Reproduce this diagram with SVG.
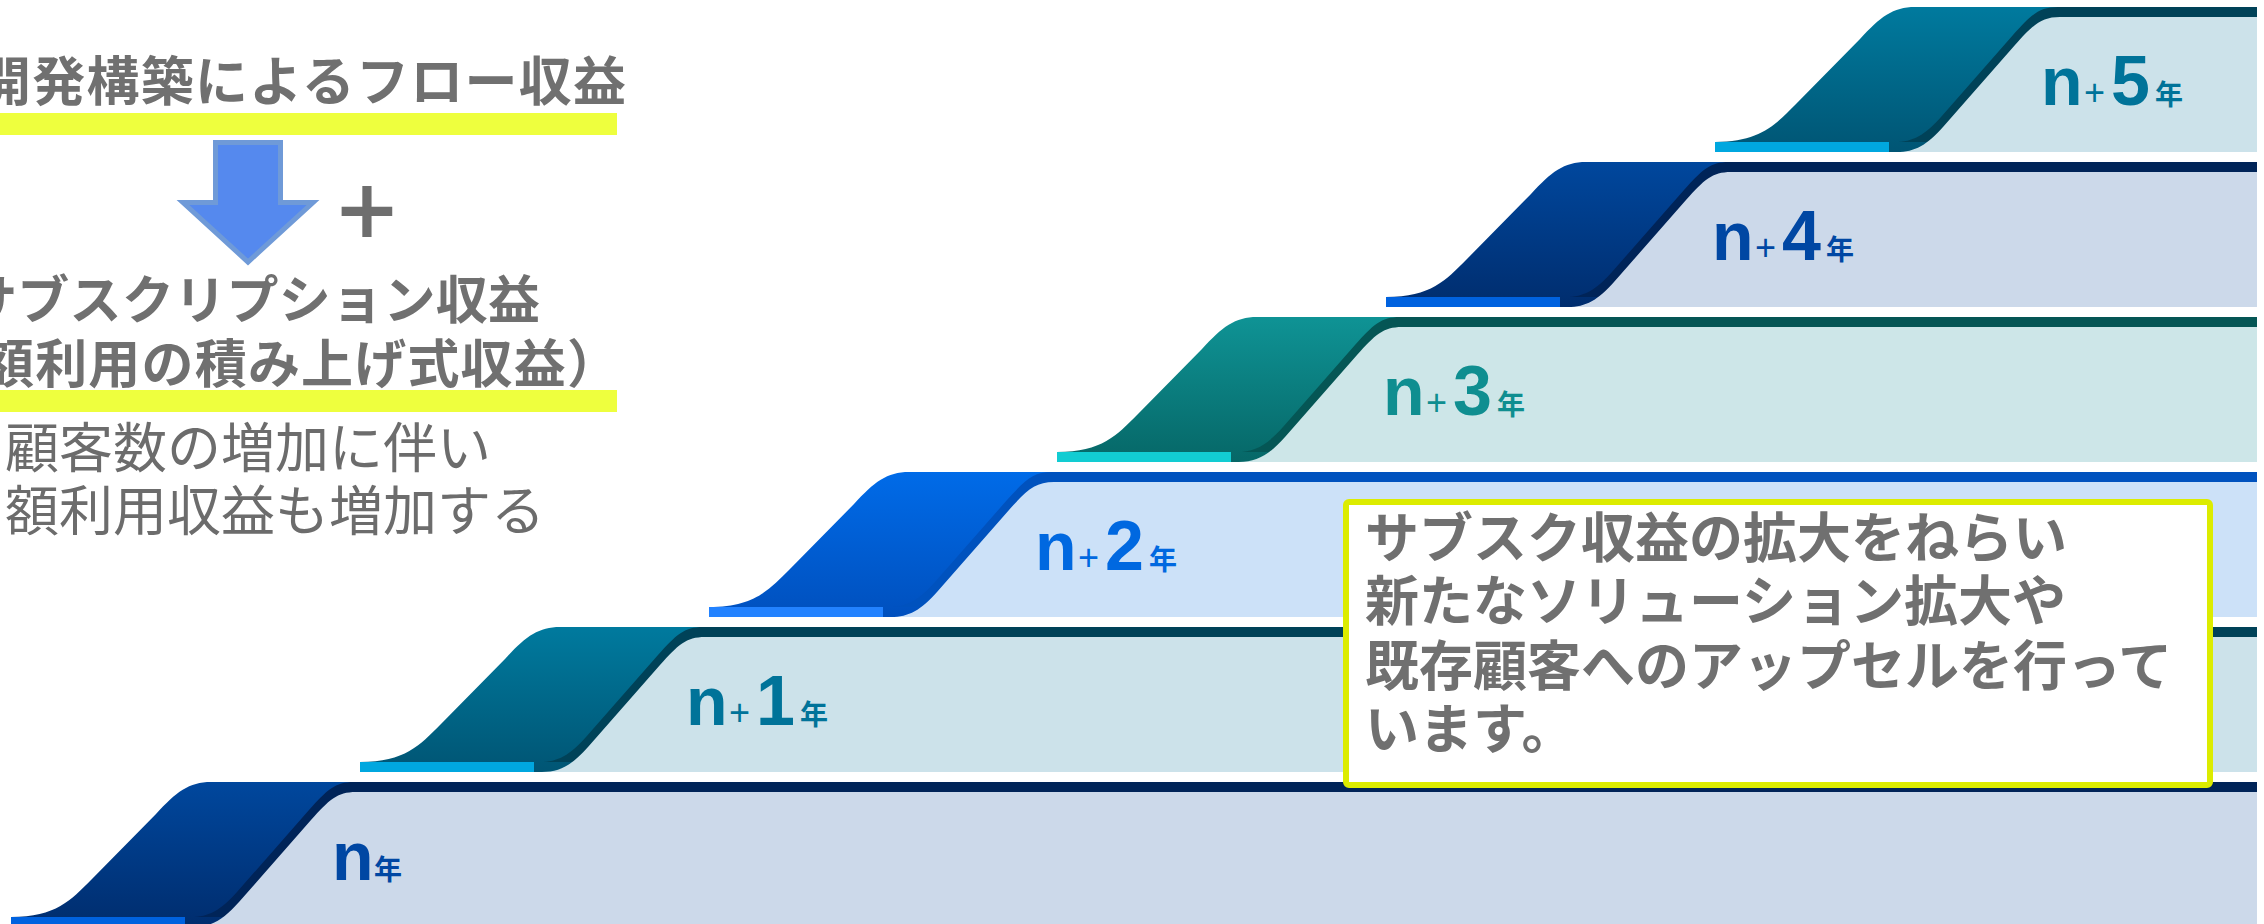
<svg xmlns="http://www.w3.org/2000/svg" width="2264" height="924" viewBox="0 0 2264 924">
<defs>
<style>
.tb{font-family:"Noto Sans CJK JP","Noto Sans CJK SC",sans-serif;font-weight:700;fill:#707070}
.tr{font-family:"Noto Sans CJK JP","Noto Sans CJK SC",sans-serif;font-weight:400;fill:#6C6C6C}
.lbl{font-family:"Liberation Sans",Arial,sans-serif;font-weight:700}
.pl{font-family:"Liberation Sans",Arial,sans-serif;font-weight:400}
.nen{font-family:"Noto Sans CJK JP","Noto Sans CJK SC",sans-serif;font-weight:700;font-size:28px}
.hl{fill:#EEFF3E}
</style>
<linearGradient id="gA" x1="0" y1="0" x2="0" y2="1"><stop offset="0" stop-color="#00479D"/><stop offset="1" stop-color="#002D6E"/></linearGradient>
<linearGradient id="gB" x1="0" y1="0" x2="0" y2="1"><stop offset="0" stop-color="#007A9E"/><stop offset="1" stop-color="#005574"/></linearGradient>
<linearGradient id="gC" x1="0" y1="0" x2="0" y2="1"><stop offset="0" stop-color="#006BE8"/><stop offset="1" stop-color="#0050BE"/></linearGradient>
<linearGradient id="gD" x1="0" y1="0" x2="0" y2="1"><stop offset="0" stop-color="#0F9395"/><stop offset="1" stop-color="#066767"/></linearGradient>
</defs>
<rect width="2264" height="924" fill="#FFFFFF"/>

<!-- step n -->
<g id="step-n" transform="translate(11,782)">
<path d="M0,135 C45,135 60,118 80,98 L145,32 C165,10 178,0 200,0 H2246 V145 H0 Z" fill="url(#gA)"/>
<path d="M343,0 H2246 V135 H180 C198,135 210,128 226,110 L298,28 C316,8 324,0 343,0 Z" fill="#002458"/>
<path d="M345,10 H2246 V145 H182 C200,145 212,138 228,120 L300,38 C318,18 326,10 345,10 Z" fill="#CCD9EA"/>
<rect x="0" y="135" width="174" height="10" fill="#0062DF"/>
<text class="lbl" y="98" fill="#0047A3"><tspan x="321" font-size="68">n</tspan><tspan x="363" class="nen">年</tspan></text>
</g>

<!-- step n+1 -->
<g id="step-n1" transform="translate(360,627)">
<path d="M0,135 C45,135 60,118 80,98 L145,32 C165,10 178,0 200,0 H1897 V145 H0 Z" fill="url(#gB)"/>
<path d="M343,0 H1897 V135 H180 C198,135 210,128 226,110 L298,28 C316,8 324,0 343,0 Z" fill="#004258"/>
<path d="M345,10 H1897 V145 H182 C200,145 212,138 228,120 L300,38 C318,18 326,10 345,10 Z" fill="#CCE2EA"/>
<rect x="0" y="135" width="174" height="10" fill="#00A7DF"/>
<text class="lbl" y="98" fill="#007399"><tspan x="326" font-size="68">n</tspan><tspan class="pl" x="369" font-size="36">+</tspan><tspan x="396" font-size="70">1</tspan><tspan x="440" class="nen">年</tspan></text>
</g>

<!-- step n+2 -->
<g id="step-n2" transform="translate(709,472)">
<path d="M0,135 C45,135 60,118 80,98 L145,32 C165,10 178,0 200,0 H1548 V145 H0 Z" fill="url(#gC)"/>
<path d="M343,0 H1548 V135 H180 C198,135 210,128 226,110 L298,28 C316,8 324,0 343,0 Z" fill="#0052BE"/>
<path d="M345,10 H1548 V145 H182 C200,145 212,138 228,120 L300,38 C318,18 326,10 345,10 Z" fill="#CCE1F8"/>
<rect x="0" y="135" width="174" height="10" fill="#2282FF"/>
<text class="lbl" y="98" fill="#0068E0"><tspan x="326" font-size="68">n</tspan><tspan class="pl" x="369" font-size="36">+</tspan><tspan x="396" font-size="70">2</tspan><tspan x="440" class="nen">年</tspan></text>
</g>

<!-- step n+3 -->
<g id="step-n3" transform="translate(1057,317)">
<path d="M0,135 C45,135 60,118 80,98 L145,32 C165,10 178,0 200,0 H1200 V145 H0 Z" fill="url(#gD)"/>
<path d="M343,0 H1200 V135 H180 C198,135 210,128 226,110 L298,28 C316,8 324,0 343,0 Z" fill="#055655"/>
<path d="M345,10 H1200 V145 H182 C200,145 212,138 228,120 L300,38 C318,18 326,10 345,10 Z" fill="#CDE6E8"/>
<rect x="0" y="135" width="174" height="10" fill="#12CCD2"/>
<text class="lbl" y="98" fill="#0F8E90"><tspan x="326" font-size="68">n</tspan><tspan class="pl" x="369" font-size="36">+</tspan><tspan x="396" font-size="70">3</tspan><tspan x="440" class="nen">年</tspan></text>
</g>

<!-- step n+4 -->
<g id="step-n4" transform="translate(1386,162)">
<path d="M0,135 C45,135 60,118 80,98 L145,32 C165,10 178,0 200,0 H871 V145 H0 Z" fill="url(#gA)"/>
<path d="M343,0 H871 V135 H180 C198,135 210,128 226,110 L298,28 C316,8 324,0 343,0 Z" fill="#002458"/>
<path d="M345,10 H871 V145 H182 C200,145 212,138 228,120 L300,38 C318,18 326,10 345,10 Z" fill="#CCD9EA"/>
<rect x="0" y="135" width="174" height="10" fill="#0062DF"/>
<text class="lbl" y="98" fill="#0047A3"><tspan x="326" font-size="68">n</tspan><tspan class="pl" x="369" font-size="36">+</tspan><tspan x="396" font-size="70">4</tspan><tspan x="440" class="nen">年</tspan></text>
</g>

<!-- step n+5 -->
<g id="step-n5" transform="translate(1715,7)">
<path d="M0,135 C45,135 60,118 80,98 L145,32 C165,10 178,0 200,0 H542 V145 H0 Z" fill="url(#gB)"/>
<path d="M343,0 H542 V135 H180 C198,135 210,128 226,110 L298,28 C316,8 324,0 343,0 Z" fill="#004258"/>
<path d="M345,10 H542 V145 H182 C200,145 212,138 228,120 L300,38 C318,18 326,10 345,10 Z" fill="#CCE2EA"/>
<rect x="0" y="135" width="174" height="10" fill="#00A7DF"/>
<text class="lbl" y="98" fill="#007399"><tspan x="326" font-size="68">n</tspan><tspan class="pl" x="369" font-size="36">+</tspan><tspan x="396" font-size="70">5</tspan><tspan x="440" class="nen">年</tspan></text>
</g>

<!-- left texts -->
<g id="flow">
<text class="tb" x="-22" y="101" font-size="53" textLength="648" lengthAdjust="spacing">開発構築によるフロー収益</text>
<rect class="hl" x="0" y="113" width="617" height="22"/>
</g>
<g id="arrow">
<polygon points="215.5,142.5 280.5,142.5 280.5,202.5 313,202.5 248,262 183,202.5 215.5,202.5" fill="#5589EE" stroke="#6F9AD8" stroke-width="5"/>
<text class="pl" x="367" y="245" font-size="100" text-anchor="middle" fill="#6E6E6E" stroke="#6E6E6E" stroke-width="2">+</text>
</g>
<g id="subscription">
<text class="tb" x="-35" y="319" font-size="52" textLength="575" lengthAdjust="spacing">サブスクリプション収益</text>
<text class="tb" x="-18" y="383" font-size="52" textLength="637" lengthAdjust="spacing">額利用の積み上げ式収益）</text>
<rect class="hl" x="0" y="390" width="617" height="22"/>
<text class="tr" x="5" y="468" font-size="54">顧客数の増加に伴い</text>
<text class="tr" x="5" y="531" font-size="54">額利用収益も増加する</text>
</g>

<!-- callout -->
<g id="callout">
<rect x="1346" y="502" width="864" height="283" rx="3" fill="#FFFFFF" stroke="#DCEC00" stroke-width="6"/>
<text class="tb" font-size="54" fill="#6E6E6E">
<tspan x="1365" y="558">サブスク収益の拡大をねらい</tspan>
<tspan x="1365" y="621">新たなソリューション拡大や</tspan>
<tspan x="1365" y="686">既存顧客へのアップセルを行って</tspan>
<tspan x="1365" y="749">います。</tspan>
</text>
</g>
</svg>
